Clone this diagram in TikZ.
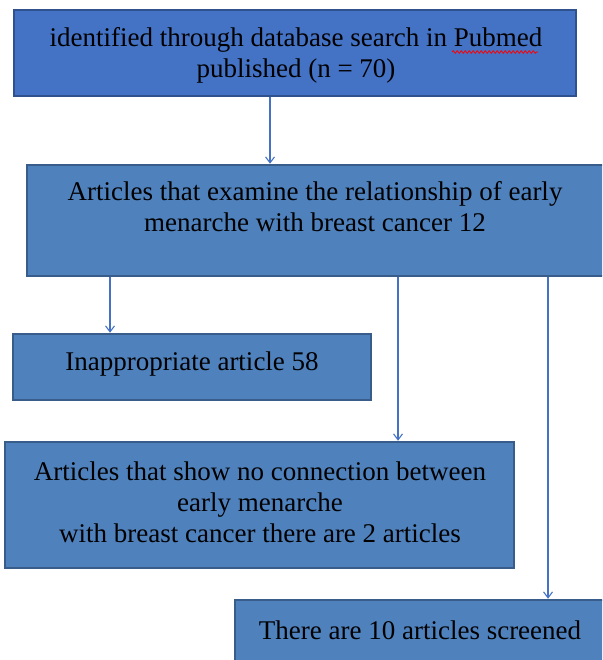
\documentclass[tikz,border=0pt]{standalone}
\usepackage{fontspec}
\setmainfont{Liberation Serif}
\usetikzlibrary{arrows.meta,decorations.pathmorphing}
\definecolor{boxA}{RGB}{68,114,196}
\definecolor{boxAedge}{RGB}{47,82,143}
\definecolor{boxB}{RGB}{79,129,189}
\definecolor{boxBedge}{RGB}{56,93,138}
\definecolor{arrowc}{RGB}{68,114,196}
\begin{document}
\begin{tikzpicture}[x=1pt,y=-1pt,
  boxa/.style={draw=boxAedge,fill=boxA,line width=1.2pt,inner sep=0pt},
  boxb/.style={draw=boxBedge,fill=boxB,line width=2.5pt,inner sep=0pt},
  lbl/.style={font=\fontsize{27}{31}\selectfont,align=center,text=black,inner sep=0pt},
  conn/.style={draw=arrowc,line width=1.1pt,-{Straight Barb[length=6pt,width=9pt]}}]
\useasboundingbox (0,0) rectangle (602,660);
\clip (0,0) rectangle (602,660);
\node[boxa,minimum width=562pt,minimum height=86pt] (b1) at (295,53) {};
\node[boxb,minimum width=577pt,minimum height=111pt] (b2) at (315.5,220.5) {};
\node[boxb,minimum width=358pt,minimum height=66pt] (b3) at (192,367) {};
\node[boxb,minimum width=509pt,minimum height=126pt] (b4) at (259.5,505) {};
\node[boxb,minimum width=369pt,minimum height=64pt] (b5) at (419.5,632) {};
\node[lbl] (t1) at (296,55) {identified through database search in Pubmed\\published (n = 70)};
\node[lbl] (t2) at (315,207) {Articles that examine the relationship of early\\menarche with breast cancer 12};
\node[lbl] (t3) at (192,364) {Inappropriate article 58};
\node[lbl] (t4) at (260,502) {Articles that show no connection between\\early menarche\\with breast cancer there are 2 articles};
\node[lbl] (t5) at (420,630) {There are 10 articles screened};
\coordinate (sq1) at (452,52);
\coordinate (sq2) at (538,52);
\draw[red,line width=0.8pt,decorate,decoration={snake,amplitude=1.3pt,segment length=4pt}] (sq1) -- (sq2);
\draw[conn] (b1.south -| 270,0) -- (b2.north -| 270,0);
\draw[conn] (b2.south -| 110,0) -- (b3.north -| 110,0);
\draw[conn] (b2.south -| 398,0) -- (b4.north -| 398,0);
\draw[conn] (b2.south -| 548,0) -- (b5.north -| 548,0);
\end{tikzpicture}
\end{document}
